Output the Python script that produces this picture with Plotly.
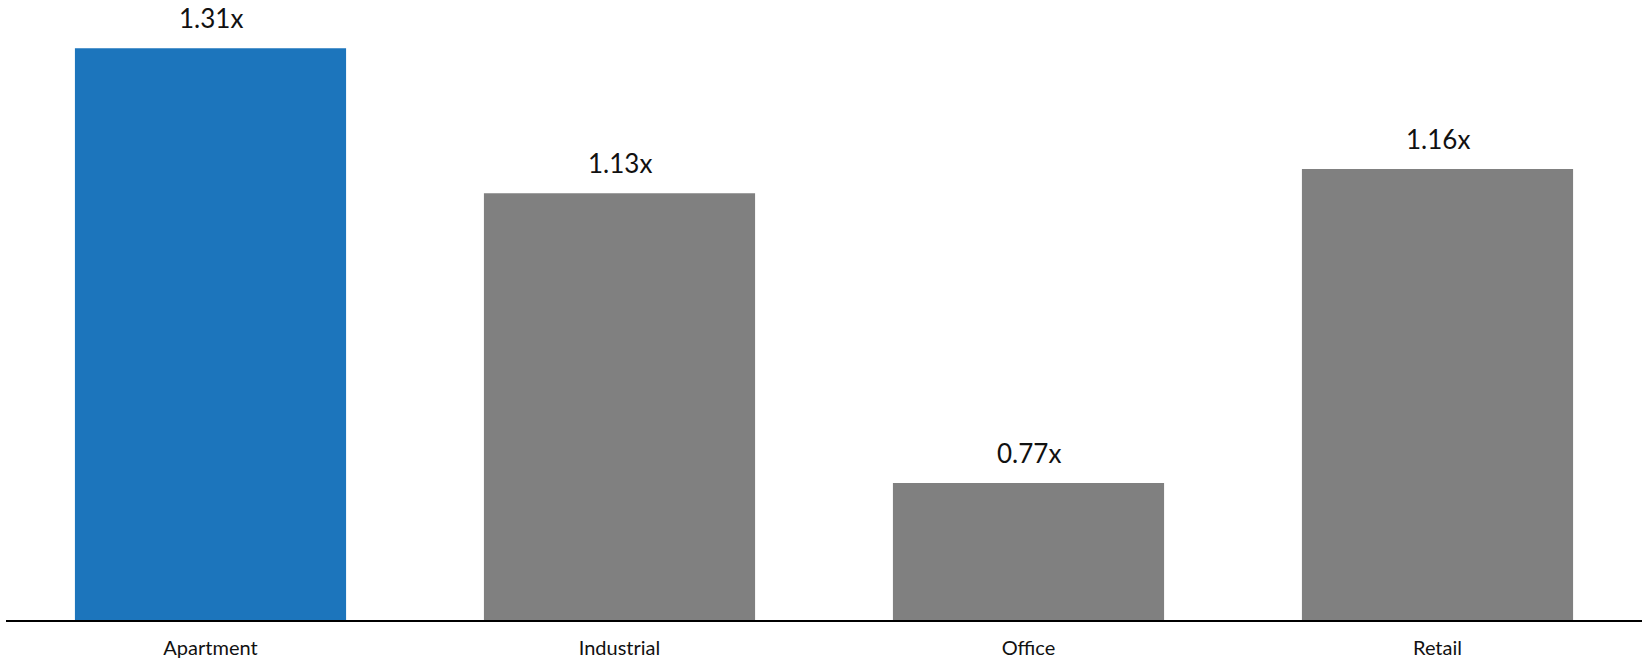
import plotly.graph_objects as go

categories = ["Apartment", "Industrial", "Office", "Retail"]
values = [1.31, 1.13, 0.77, 1.16]
colors = ["#1c75bc", "#808080", "#808080", "#808080"]
labels = [f"{v:.2f}x" for v in values]

fig = go.Figure()
fig.add_trace(go.Bar(
    x=categories, y=values,
    marker=dict(color=colors, line=dict(width=0)),
    width=0.663, hoverinfo="x+y",
))
for c, v, t in zip(categories, values, labels):
    fig.add_annotation(x=c, y=v, text=t, showarrow=False, yanchor="bottom",
                       yshift=12, font=dict(size=26, color="#111111", family="Lato"))
fig.update_layout(
    width=1642, height=661,
    margin=dict(l=6, r=0, t=0, b=41),
    paper_bgcolor="white", plot_bgcolor="white",
    showlegend=False,
    font=dict(family="Lato", color="#111111"),
    bargap=0.337,
)
fig.update_xaxes(showline=True, linecolor="black", linewidth=2,
                 ticks="", tickfont=dict(size=20, color="#111111"), showgrid=False,
                 ticklabelstandoff=9, automargin=False)
fig.update_yaxes(range=[0.6, 1.37], visible=False, showgrid=False, zeroline=False,
                 automargin=False)
fig.write_html("out.html")
